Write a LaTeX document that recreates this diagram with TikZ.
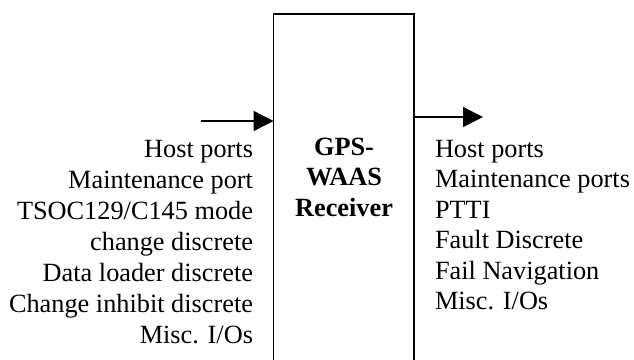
\documentclass[tikz,border=0pt]{standalone}
\usepackage{fontspec}
\setmainfont{Liberation Serif}
\usetikzlibrary{arrows.meta}
\begin{document}
\begin{tikzpicture}[x=1pt,y=-1pt,
  lbl/.style={inner sep=0pt,outer sep=0pt,font=\fontsize{26.3}{30.8}\selectfont},
  lft/.style={lbl,anchor=base east},
  rgt/.style={lbl,anchor=base west},
  ttl/.style={lbl,anchor=base,font=\fontsize{26.3}{30.8}\selectfont\bfseries},
  blk/.style={draw,line width=1.3pt,minimum width=140.5pt,minimum height=420pt,inner sep=0pt,outer sep=0pt},
  arr/.style={line width=1.3pt,-{Triangle[length=20pt,width=20pt]}}]
\useasboundingbox (0,0) rectangle (634,359);
\node[blk] (box) at (343.75,224) {};
\node[ttl] (t1) at (344,155) {GPS-};
\node[ttl] (t2) at (344,185.5) {WAAS};
\node[ttl] (t3) at (344,216) {Receiver};
\coordinate (inL) at (201,121);
\coordinate (outR) at (483,117);
\draw[arr] (inL) -- (inL -| box.west);
\draw[arr] (outR -| box.east) -- (outR);
\foreach \t [count=\i from 0] in {Host ports,Maintenance port,TSOC129/C145 mode,change discrete,Data loader discrete,Change inhibit discrete,Misc. I/Os}
  \node[lft] (l\i) at (253,157.7+30.9*\i) {\t};
\foreach \t [count=\i from 0] in {Host ports,Maintenance ports,PTTI,Fault Discrete,Fail Navigation,Misc. I/Os}
  \node[rgt] (r\i) at (435,157+30.5*\i) {\t};
\end{tikzpicture}
\end{document}
